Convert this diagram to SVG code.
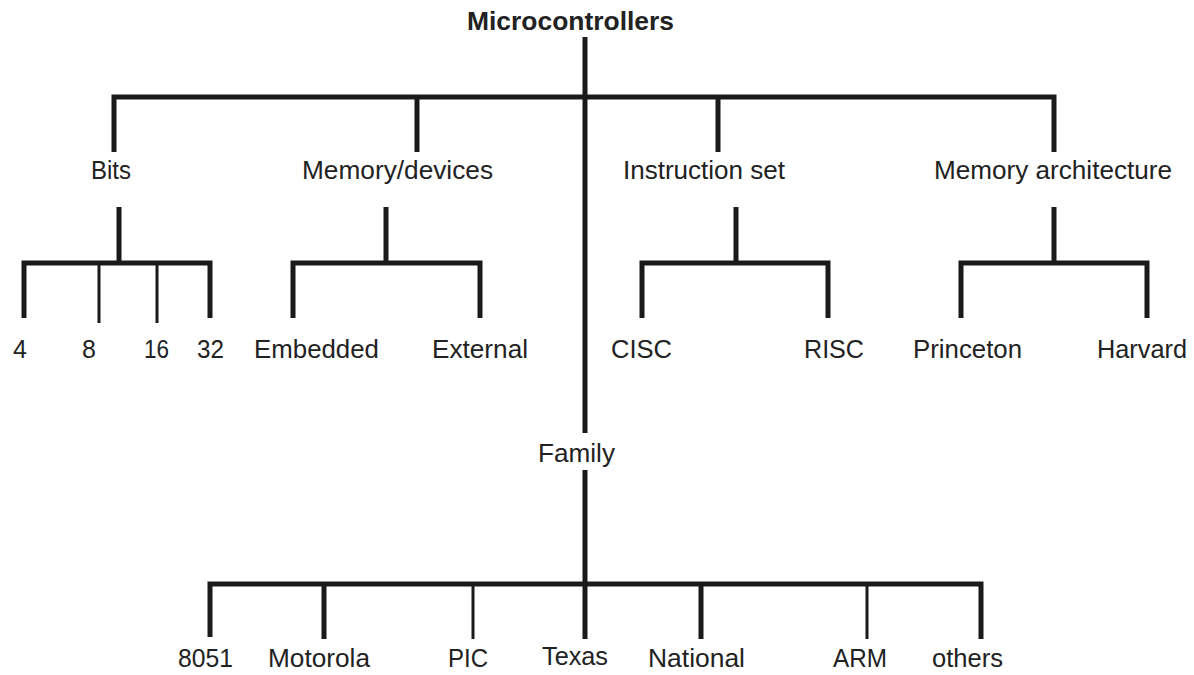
<svg xmlns="http://www.w3.org/2000/svg" width="1194" height="675" viewBox="0 0 1194 675">
<style>
text{font-family:"Liberation Sans",Arial,sans-serif;font-size:25px;fill:#222;}
.title{font-weight:bold;font-size:26px;}
.thick{stroke:#1a1a1a;stroke-width:5;fill:none;stroke-linecap:butt;}
.thin{stroke:#1a1a1a;stroke-width:3;fill:none;}
</style>
<rect width="1194" height="675" fill="#fff"/>
<g id="connectors">
<path class="thick" d="M585 37V433M585 470V639"/>
<path class="thick" d="M114 152V97H1054V152M417 97V152M718 97V152"/>
<path class="thick" d="M119 207V263M24 318V263H210V318"/>
<path class="thin" d="M99 263V323M157 263V323"/>
<path class="thick" d="M386 207V263M293 318V263H480V318"/>
<path class="thick" d="M736 207V263M642 318V263H828V318"/>
<path class="thick" d="M1054 207V263M961 318V263H1147V318"/>
<path class="thick" d="M210 637V584H981V639M324 584V639M701 584V639"/>
<path class="thin" d="M473 584V639M867 584V639"/>
</g>
<g id="n-root"><text class="title" x="467" y="30" textLength="207" lengthAdjust="spacingAndGlyphs">Microcontrollers</text></g>
<g id="n-bits"><text x="91" y="179" textLength="40" lengthAdjust="spacingAndGlyphs">Bits</text></g>
<g id="n-memdev"><text x="302" y="179" textLength="191" lengthAdjust="spacingAndGlyphs">Memory/devices</text></g>
<g id="n-iset"><text x="623" y="179" textLength="162" lengthAdjust="spacingAndGlyphs">Instruction set</text></g>
<g id="n-memarch"><text x="934" y="179" textLength="238" lengthAdjust="spacingAndGlyphs">Memory architecture</text></g>
<g id="n-4"><text x="13" y="358">4</text></g>
<g id="n-8"><text x="82" y="358">8</text></g>
<g id="n-16"><text x="144" y="358" textLength="25" lengthAdjust="spacingAndGlyphs">16</text></g>
<g id="n-32"><text x="197" y="358" textLength="27" lengthAdjust="spacingAndGlyphs">32</text></g>
<g id="n-embedded"><text x="254" y="358" textLength="125" lengthAdjust="spacingAndGlyphs">Embedded</text></g>
<g id="n-external"><text x="432" y="358" textLength="96" lengthAdjust="spacingAndGlyphs">External</text></g>
<g id="n-cisc"><text x="611" y="358" textLength="61" lengthAdjust="spacingAndGlyphs">CISC</text></g>
<g id="n-risc"><text x="804" y="358" textLength="60" lengthAdjust="spacingAndGlyphs">RISC</text></g>
<g id="n-princeton"><text x="913" y="358" textLength="109" lengthAdjust="spacingAndGlyphs">Princeton</text></g>
<g id="n-harvard"><text x="1097" y="358" textLength="90" lengthAdjust="spacingAndGlyphs">Harvard</text></g>
<g id="n-family"><text x="538" y="462" textLength="77" lengthAdjust="spacingAndGlyphs">Family</text></g>
<g id="n-8051"><text x="178" y="667" textLength="55" lengthAdjust="spacingAndGlyphs">8051</text></g>
<g id="n-motorola"><text x="268" y="667" textLength="102" lengthAdjust="spacingAndGlyphs">Motorola</text></g>
<g id="n-pic"><text x="448" y="667" textLength="40" lengthAdjust="spacingAndGlyphs">PIC</text></g>
<g id="n-texas"><text x="542" y="665" textLength="66" lengthAdjust="spacingAndGlyphs">Texas</text></g>
<g id="n-national"><text x="648" y="667" textLength="97" lengthAdjust="spacingAndGlyphs">National</text></g>
<g id="n-arm"><text x="833" y="667" textLength="54" lengthAdjust="spacingAndGlyphs">ARM</text></g>
<g id="n-others"><text x="932" y="667" textLength="71" lengthAdjust="spacingAndGlyphs">others</text></g>
</svg>
